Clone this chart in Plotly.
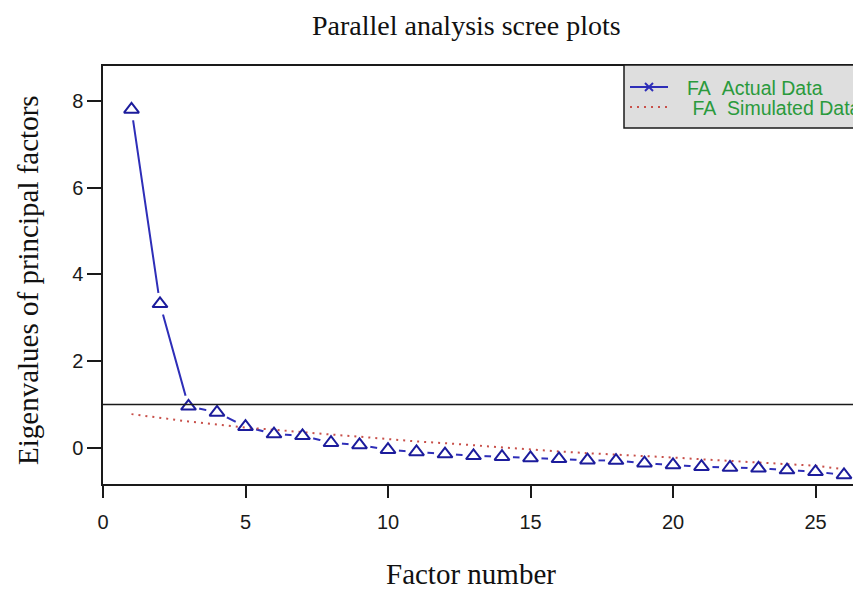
import plotly.graph_objects as go

# ---- data ----
factors = list(range(1, 27))
actual = [7.80, 3.32, 0.96, 0.82, 0.49, 0.32, 0.28, 0.12, 0.07, -0.04,
          -0.09, -0.14, -0.18, -0.20, -0.23, -0.25, -0.28, -0.29, -0.35, -0.39,
          -0.43, -0.45, -0.47, -0.51, -0.55, -0.62]
simulated = [0.78, 0.69, 0.61, 0.54, 0.47, 0.42, 0.36, 0.31, 0.26, 0.20,
             0.15, 0.11, 0.06, 0.01, -0.04, -0.08, -0.12, -0.15, -0.19, -0.22,
             -0.26, -0.30, -0.33, -0.37, -0.41, -0.49]
x_ticks = [0, 5, 10, 15, 20, 25]
y_ticks = [0, 2, 4, 6, 8]
hline_value = 1
title_text = "Parallel analysis scree plots"
x_title = "Factor number"
y_title = "Eigenvalues of principal factors"
legend_labels = ["FA\u00a0\u00a0Actual Data", "\u00a0FA\u00a0\u00a0Simulated Data"]

# ---- layout geometry (pixels, page has an 8px body margin) ----
OFF = 8
W, H = 861 - OFF, 591 - OFF
L, R, T = 103 - OFF, 0, 66 - OFF
B = H - (484 - OFF)
PW, PH = W - L - R, H - T - B

def xp(px):
    """reference-page x pixel -> paper coordinate"""
    return (px - OFF - L) / PW

def yp(py):
    """reference-page y pixel -> paper coordinate"""
    return (T + PH - (py - OFF)) / PH

BLUE = "#2e2eb8"
NAVY = "#1c1c9c"
RED = "#c8504a"
GREEN = "#2a9a3c"
AXC = "#1a1a1a"

fig = go.Figure()

fig.add_trace(go.Scatter(x=factors, y=actual, mode="lines",
                         line=dict(color=BLUE, width=2), hoverinfo="skip",
                         showlegend=False))
fig.add_trace(go.Scatter(x=factors, y=actual, mode="markers",
                         marker=dict(symbol="circle", size=22, color="white",
                                     line=dict(width=0)),
                         hoverinfo="skip", showlegend=False))
fig.add_trace(go.Scatter(x=factors, y=simulated, mode="lines",
                         line=dict(color=RED, width=2, dash="2px,5px"),
                         hoverinfo="skip", showlegend=False))
fig.add_trace(go.Scatter(x=factors, y=actual, mode="markers",
                         marker=dict(symbol="triangle-up-open", size=13,
                                     color=NAVY, line=dict(width=2, color=NAVY)),
                         hoverinfo="skip", showlegend=False))

shapes = []
shapes.append(dict(type="line", xref="paper", yref="y", x0=0, x1=1,
                   y0=hline_value, y1=hline_value,
                   line=dict(color=AXC, width=1.5)))
shapes.append(dict(type="rect", xref="paper", yref="paper",
                   x0=xp(624), x1=xp(900), y0=yp(128), y1=yp(65),
                   fillcolor="#dedede", line=dict(color=AXC, width=1.5),
                   layer="above"))
shapes.append(dict(type="line", xref="paper", yref="paper",
                   x0=xp(630), x1=xp(668), y0=yp(87), y1=yp(87),
                   line=dict(color=BLUE, width=2), layer="above"))
shapes.append(dict(type="line", xref="paper", yref="paper",
                   x0=xp(645), x1=xp(653), y0=yp(83), y1=yp(91),
                   line=dict(color=BLUE, width=2), layer="above"))
shapes.append(dict(type="line", xref="paper", yref="paper",
                   x0=xp(645), x1=xp(653), y0=yp(91), y1=yp(83),
                   line=dict(color=BLUE, width=2), layer="above"))
shapes.append(dict(type="line", xref="paper", yref="paper",
                   x0=xp(630), x1=xp(668), y0=yp(107), y1=yp(107),
                   line=dict(color=RED, width=2, dash="2px,5px"), layer="above"))

annotations = [
    dict(text=title_text, xref="paper", yref="paper", x=xp(466), y=yp(26),
         xanchor="center", yanchor="middle", showarrow=False,
         font=dict(family="Liberation Serif", size=28, color="#111")),
    dict(text=x_title, xref="paper", yref="paper", x=xp(471), y=yp(574),
         xanchor="center", yanchor="middle", showarrow=False,
         font=dict(family="Liberation Serif", size=29, color="#111")),
    dict(text=y_title, xref="paper", yref="paper", x=xp(28), y=yp(280),
         xanchor="center", yanchor="middle", showarrow=False, textangle=-90,
         font=dict(family="Liberation Serif", size=29, color="#111")),
    dict(text=legend_labels[0], xref="paper", yref="paper", x=xp(685), y=yp(88),
         xanchor="left", yanchor="middle", showarrow=False,
         font=dict(family="Liberation Sans", size=19.5, color=GREEN)),
    dict(text=legend_labels[1], xref="paper", yref="paper", x=xp(685), y=yp(108),
         xanchor="left", yanchor="middle", showarrow=False,
         font=dict(family="Liberation Sans", size=19.5, color=GREEN)),
]

fig.update_layout(
    width=W, height=H,
    margin=dict(l=L, r=R, t=T, b=B, pad=0),
    paper_bgcolor="white", plot_bgcolor="white",
    showlegend=False,
    shapes=shapes, annotations=annotations,
    xaxis=dict(range=[0, PW / 28.5], tickvals=x_ticks, ticks="outside",
               ticklen=12, tickwidth=1.5, tickcolor=AXC,
               showline=True, linecolor=AXC, linewidth=1.5, mirror=True,
               showgrid=False, zeroline=False, ticklabelstandoff=7,
               tickfont=dict(family="Liberation Sans", size=20, color=AXC)),
    yaxis=dict(range=[-0.83, 8.80], tickvals=y_ticks, ticks="outside",
               ticklen=14, tickwidth=1.5, tickcolor=AXC,
               showline=True, linecolor=AXC, linewidth=1.5, mirror=False,
               showgrid=False, zeroline=False,
               tickfont=dict(family="Liberation Sans", size=20, color=AXC)),
)

fig.write_html("out.html")
